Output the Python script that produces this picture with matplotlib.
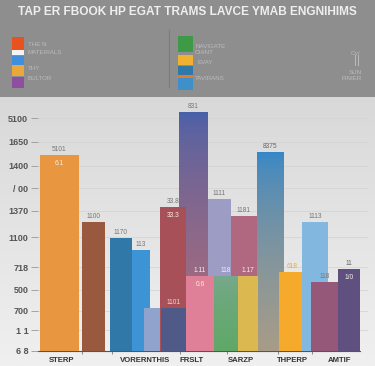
"""
Garbled infographic style bar chart on a grey gradient with a dark banner.
"""

import matplotlib.pyplot as plt
import numpy as np
from matplotlib.colors import LinearSegmentedColormap
from matplotlib.patches import Rectangle

plt.rcParams["font.family"] = ["Liberation Sans", "DejaVu Sans"]

title = "TAP ER FBOOK HP EGAT TRAMS LAVCE YMAB ENGNIHIMS"

# bar values, drawing order is back to front
bar_values = [1262, 830, 727, 650, 277, 1540, 928, 277, 982, 870, 1285, 483, 483, 483, 509, 830, 444, 528]
bar_labels = ["5101", "1100", "1170", "113", "", "831", "33.8", "1101", "1111", "1181", "8375", "1.11", "118", "1.17", "618", "1113", "118", "11"]
inner_labels = ["6.1", "", "", "", "", "", "33.3", "", "", "", "", "0.6", "", "", "", "", "", "1/0"]

y_ticks = [0, 135, 258, 393, 541, 734, 902, 1050, 1192, 1347, 1500]
y_ticklabels = ["6 8", "1 1", "700", "500", "718", "1100", "1370", "/ 00", "1400", "1650", "5100"]
x_ticks = [62, 145, 192, 241, 292, 340]
x_ticklabels = ["STERP", "VORERNTHIS", "FRSLT", "SARZP", "THPERP", "AMTIF"]
x_marks = [82, 112, 180, 227, 278, 312]

bar_left = [40, 82, 110, 132, 144, 179, 160, 161, 208, 231, 257, 186, 214, 238, 279, 302, 311, 338]
bar_width = [39, 23, 22, 18, 17, 29, 26, 25, 23, 26, 27, 28, 24, 20, 26, 26, 27, 22]
bar_top_colors = ["#e8963f", "#99593f", "#2f78a8", "#3d94d4", "#8fa3cc", "#4460ac", "#a85058", "#4f5a88", "#9c9cc4", "#b06880", "#2f86cc", "#e08098", "#7aa890", "#dcb850", "#f5aa2c", "#82b8e0", "#965878", "#5f5080"]
bar_bottom_colors = ["#e8963f", "#99593f", "#2f78a8", "#3d94d4", "#8fa3cc", "#b06c78", "#a85058", "#4f5a88", "#9c9cc4", "#b06880", "#a89c88", "#e08098", "#60a868", "#dcb850", "#f5aa2c", "#82b8e0", "#965878", "#5f5080"]
label_colors = ["#777777", "#777777", "#777777", "#777777", "#777777", "#777777", "#777777", "#dddddd", "#777777", "#777777", "#666666", "#f0f0f0", "#f0f0f0", "#f0f0f0", "#e8a848", "#777777", "#777777", "#666666"]

legend_left = ["#e8521e", "#f4f4f4", "#3f8fdc", "#e8a83c", "#8f4fa0"]
legend_left_y = [37, 50, 56, 65, 77]
legend_left_h = [13, 5, 9, 11, 11]
legend_right = ["#3f9a48", "#f0b030", "#2f78a8", "#e87830", "#3f8fc8"]
legend_right_y = [36, 55, 66, 75, 78]
legend_right_h = [16, 10, 9, 3, 12]

W, H = 375, 366

fig = plt.figure(figsize=(W / 100, H / 100), dpi=100)

bg = fig.add_axes([0, 0, 1, 1], zorder=-5)
shade = np.linspace(0, 1, 256).reshape(-1, 1)
bg.imshow(shade, aspect="auto", extent=(0, W, H, 0),
          cmap=LinearSegmentedColormap.from_list("bg", ["#d0d0d0", "#f0f0f0"]))
bg.add_patch(Rectangle((0, 0), W, 97, color="#8e8e8e", lw=0))
bg.set_xlim(0, W)
bg.set_ylim(H, 0)
bg.axis("off")

# banner
bg.text(187, 12, title, color="#eeeeee", fontsize=8.6, fontweight="bold", ha="center", va="center")
bg.plot([169, 169], [30, 87], color="#7c7c7c", lw=0.8)
for c, y, h in zip(legend_left, legend_left_y, legend_left_h):
    bg.add_patch(Rectangle((12, y), 12, h, color=c, lw=0))
for c, y, h in zip(legend_right, legend_right_y, legend_right_h):
    bg.add_patch(Rectangle((178, y), 15, h, color=c, lw=0))
for x, y, s in [(28, 45, "THE N"), (28, 52, "MATERIALS"), (28, 68, "THY"), (28, 78, "BULTOR"),
                (195, 47, "NAVIGATE"), (195, 53, "CHINT"), (197, 63, "EVAY"), (195, 78, "TAVIRANS"),
                (349, 72, "SUN"), (341, 79, "FINIER"), (351, 53, "Oy/")]:
    bg.text(x, y, s, color="#bcbcbc", fontsize=4.4, va="center")
bg.plot([355, 355], [55, 65], color="#bcbcbc", lw=0.7)
bg.plot([358, 358], [55, 65], color="#bcbcbc", lw=0.7)

# plot area is set so the x scale runs in figure pixels
ax = fig.add_axes([38 / W, 1 - 351 / H, (368 - 38) / W, 251 / H])
ax.patch.set_alpha(0)

for value, left, width, top, bottom, lab, inner, lab_color in zip(
    bar_values, bar_left, bar_width, bar_top_colors, bar_bottom_colors, bar_labels, inner_labels, label_colors
):
    bar = ax.bar(left, value, width=width, align="edge", color=top, zorder=3)[0]
    if top != bottom:
        cmap = LinearSegmentedColormap.from_list("b", [top, bottom])
        im = ax.imshow(np.linspace(0, 1, 256).reshape(-1, 1) ** 0.6, aspect="auto", cmap=cmap, zorder=3,
                       extent=(left, left + width, 0, value))
        im.set_clip_path(bar)
    ax.text(left + width / 2, value + 12, lab, fontsize=4.8, color=lab_color,
            ha="center", va="bottom", zorder=5)
    if inner:
        ax.text(left + width / 2, value - 30, inner, fontsize=4.8, color="#f4f0e4",
                ha="center", va="top", zorder=5)

ax.set_xlim(38, 368)
ax.set_ylim(0, 1617)
ax.set_yticks(y_ticks, y_ticklabels, fontsize=6.5, color="#555555", fontweight="bold")
ax.set_xticks(x_ticks, x_ticklabels, fontsize=5.6, color="#333333", fontweight="bold")
ax.set_xticks(x_marks, minor=True)
ax.tick_params(axis="y", length=5, width=0.6, color="#999999", pad=2)
ax.tick_params(axis="x", which="major", length=0, pad=4)
ax.tick_params(axis="x", which="minor", length=2, width=0.6, color="#777777")
ax.grid(axis="y", color="#d2d2d2", lw=0.5, zorder=0)
ax.set_axisbelow(True)
for side in ["top", "right", "left"]:
    ax.spines[side].set_visible(False)
ax.spines["bottom"].set_color("#555555")
ax.spines["bottom"].set_linewidth(0.8)
ax.spines["bottom"].set_bounds(38, 360)

fig.savefig("out.png", dpi=100)
